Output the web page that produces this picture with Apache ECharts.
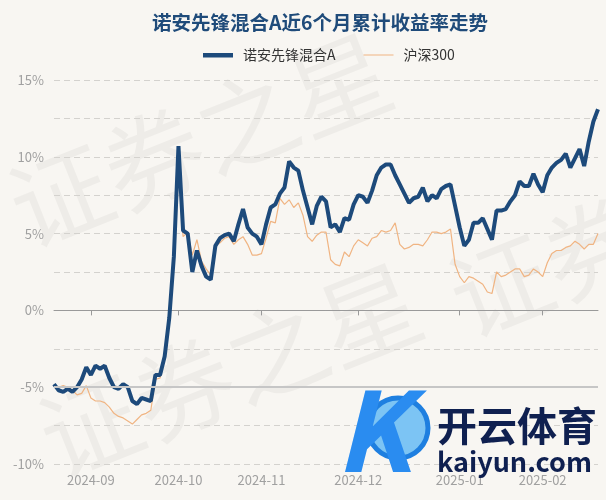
<!DOCTYPE html>
<html>
<head>
<meta charset="utf-8">
<script src="https://cdn.jsdelivr.net/npm/echarts@6/dist/echarts.min.js"></script>
<style>
html,body{margin:0;padding:0;background:#f8f6f2;}
#c{width:606px;height:500px;}
</style>
</head>
<body>
<div id="c"></div>
<script>
var titleText = '诺安先锋混合A近6个月累计收益率走势';
var seriesNames = ['诺安先锋混合A', '沪深300'];
var dates = [
'2024-08-21','2024-08-22','2024-08-23','2024-08-26','2024-08-27','2024-08-28','2024-08-29','2024-08-30',
'2024-09-02','2024-09-03','2024-09-04','2024-09-05','2024-09-06','2024-09-09','2024-09-10','2024-09-11','2024-09-12','2024-09-13','2024-09-18','2024-09-19','2024-09-20','2024-09-23','2024-09-24','2024-09-25','2024-09-26','2024-09-27','2024-09-30',
'2024-10-08','2024-10-09','2024-10-10','2024-10-11','2024-10-14','2024-10-15','2024-10-16','2024-10-17','2024-10-18','2024-10-21','2024-10-22','2024-10-23','2024-10-24','2024-10-25','2024-10-28','2024-10-29','2024-10-30','2024-10-31',
'2024-11-01','2024-11-04','2024-11-05','2024-11-06','2024-11-07','2024-11-08','2024-11-11','2024-11-12','2024-11-13','2024-11-14','2024-11-15','2024-11-18','2024-11-19','2024-11-20','2024-11-21','2024-11-22','2024-11-25','2024-11-26','2024-11-27','2024-11-28','2024-11-29',
'2024-12-02','2024-12-03','2024-12-04','2024-12-05','2024-12-06','2024-12-09','2024-12-10','2024-12-11','2024-12-12','2024-12-13','2024-12-16','2024-12-17','2024-12-18','2024-12-19','2024-12-20','2024-12-23','2024-12-24','2024-12-25','2024-12-26','2024-12-27','2024-12-30','2024-12-31',
'2025-01-02','2025-01-03','2025-01-06','2025-01-07','2025-01-08','2025-01-09','2025-01-10','2025-01-13','2025-01-14','2025-01-15','2025-01-16','2025-01-17','2025-01-20','2025-01-21','2025-01-22','2025-01-23','2025-01-24','2025-01-27',
'2025-02-05','2025-02-06','2025-02-07','2025-02-10','2025-02-11','2025-02-12','2025-02-13','2025-02-14','2025-02-17','2025-02-18','2025-02-19','2025-02-20','2025-02-21'
];
var fundValues = [
-4.8,-5.2,-5.3,-5.1,-5.3,-5.0,-4.5,-3.7,
-4.2,-3.6,-3.8,-3.6,-4.4,-5.0,-5.1,-4.8,-5.0,-5.9,-6.1,-5.7,-5.8,-5.9,-4.2,-4.2,-3.0,-0.5,3.5,
10.7,5.2,5.0,2.5,3.9,2.9,2.2,2.0,4.2,4.7,4.9,5.0,4.5,5.6,6.6,5.4,5.0,4.8,
4.3,5.6,6.7,6.9,7.6,8.0,9.7,9.3,9.1,7.8,6.7,5.6,6.8,7.4,7.1,5.4,5.6,5.1,6.0,5.9,6.9,
7.5,7.4,7.0,7.8,8.8,9.3,9.5,9.5,8.8,8.2,7.6,7.0,7.3,7.4,8.0,7.1,7.5,7.3,7.9,8.1,8.2,6.8,
5.4,4.2,4.6,5.7,5.7,6.0,5.3,4.6,6.5,6.5,6.6,7.1,7.5,8.4,8.1,8.1,8.9,8.2,
7.7,8.8,9.3,9.6,9.8,10.2,9.3,9.9,10.5,9.4,11.0,12.3,13.1
];
var hs300Values = [
-4.9,-5.0,-4.9,-5.0,-5.2,-5.5,-5.4,-4.9,
-5.7,-5.9,-5.9,-6.0,-6.3,-6.7,-6.9,-7.0,-7.2,-7.4,-7.1,-6.8,-6.7,-6.5,-4.5,-4.4,-3.2,-0.8,3.0,
9.1,4.8,5.1,3.6,4.6,3.2,2.7,2.3,4.2,4.4,4.7,4.8,4.3,4.6,4.8,4.3,3.6,3.6,
3.7,4.7,5.8,5.7,7.3,6.9,7.2,6.7,7.0,6.2,4.8,4.5,4.9,5.1,5.1,3.3,3.0,2.9,3.8,3.5,4.2,
4.6,4.4,4.2,4.7,4.8,5.2,5.1,5.2,5.7,4.3,4.0,4.1,4.3,4.3,4.2,4.6,5.1,5.1,5.0,5.1,5.3,3.0,
2.2,1.8,2.2,2.1,1.9,1.7,1.2,1.1,2.5,2.2,2.3,2.5,2.7,2.7,2.2,2.3,2.7,2.5,
2.2,3.1,3.7,3.9,3.9,4.1,4.2,4.5,4.3,4.0,4.3,4.3,5.0
];
var yTickLabels = ['-10%','-5%','0%','5%','10%','15%'];
var baseLineValue = -5;
var watermarkText = '证券之星';
var logoTexts = ['开云体育', 'kaiyun.com'];

function isMonthStart(i) {
  if (i === 0) return false;
  return dates[i].slice(0, 7) !== dates[i - 1].slice(0, 7);
}

var FONT = '"Noto Sans CJK SC","Noto Sans",sans-serif';
var chart = echarts.init(document.getElementById('c'));
var wmStyle = {text: watermarkText, fontSize: 100, fontFamily: FONT, fill: 'rgba(0,0,0,0.04)', textAlign: 'center', textVerticalAlign: 'middle'};
chart.setOption({
  backgroundColor: '#f8f6f2',
  textStyle: {fontFamily: FONT},
  title: {
    text: titleText,
    left: 315, top: 8, textAlign: 'center',
    textStyle: {color: '#1f4b7a', fontSize: 19.5, fontWeight: 'bold', fontFamily: FONT}
  },
  legend: {
    left: 198, top: 43,
    itemWidth: 30, itemHeight: 14, itemGap: 28,
    textStyle: {color: '#333', fontSize: 14, fontFamily: FONT, padding: [0, 0, 0, 5]},
    data: [
      {name: seriesNames[0], icon: 'path://M0,0L0,0ZM0,5H30V9.5H0ZM0,14L0,14Z'},
      {name: seriesNames[1], icon: 'path://M0,0L0,0ZM0,6.4H30V7.6H0ZM0,14L0,14Z'}
    ]
  },
  graphic: [
    {type: 'text', x: 200, y: 140, rotation: 0.38, silent: true, z: -1, style: wmStyle},
    {type: 'text', x: 230, y: 370, rotation: 0.38, silent: true, z: -1, style: wmStyle},
    {type: 'text', x: 640, y: 230, rotation: 0.38, silent: true, z: -1, style: wmStyle},
    {type: 'circle', shape: {cx: 398, cy: 428, r: 30}, silent: true, z: 50,
      style: {fill: '#7cc4f4', stroke: '#1e7fe0', lineWidth: 5}},
    {type: 'text', x: 335, y: 375, silent: true, z: 50,
      style: {text: 'K', fontSize: 110, fontStyle: 'italic', fontWeight: 'bold', fontFamily: FONT, fill: '#2a8cf0', textAlign: 'left', textVerticalAlign: 'top'}},
    {type: 'text', x: 437, y: 406, silent: true, z: 50,
      style: {text: logoTexts[0], fontSize: 40, fontWeight: 'bold', fontFamily: FONT, fill: '#0f2050', textAlign: 'left', textVerticalAlign: 'top'}},
    {type: 'text', x: 437, y: 448, silent: true, z: 50,
      style: {text: logoTexts[1], fontSize: 27, fontWeight: 'bold', fontFamily: FONT, fill: '#0f2050', textAlign: 'left', textVerticalAlign: 'top'}}
  ],
  grid: {left: 54, right: 8, top: 80, bottom: 36, containLabel: false},
  xAxis: {
    type: 'category',
    data: dates,
    boundaryGap: false,
    axisLine: {lineStyle: {color: '#9a9a9a', width: 1}},
    axisTick: {show: true, interval: function (i) { return isMonthStart(i); }, length: 5, lineStyle: {color: '#9a9a9a'}},
    axisLabel: {
      interval: function (i) { return isMonthStart(i); },
      formatter: function (v) { return v.slice(0, 7); },
      color: '#a0a0a0', fontSize: 13, margin: 10, fontFamily: FONT
    },
    splitLine: {show: false}
  },
  yAxis: {
    type: 'value',
    min: -10, max: 15, interval: 2.5,
    axisLine: {show: false},
    axisTick: {show: false},
    axisLabel: {
      color: '#a0a0a0', fontSize: 13, margin: 10, fontFamily: FONT,
      formatter: function (v) {
        var idx = yTickLabels.indexOf(v + '%');
        return idx >= 0 ? yTickLabels[idx] : '';
      }
    },
    splitLine: {lineStyle: {color: '#d4d2ce', type: [6, 4], width: 1}}
  },
  series: [
    {
      name: seriesNames[0], type: 'line', data: fundValues,
      symbol: 'none', smooth: false, z: 4,
      lineStyle: {color: '#1d4a7b', width: 4},
      itemStyle: {color: '#1d4a7b'},
      markLine: {
        silent: true, symbol: 'none', label: {show: false},
        lineStyle: {color: '#c6c6c6', type: 'solid', width: 2},
        data: [{yAxis: baseLineValue}]
      }
    },
    {
      name: seriesNames[1], type: 'line', data: hs300Values,
      symbol: 'none', smooth: false, z: 3,
      lineStyle: {color: '#f0b482', width: 1.2},
      itemStyle: {color: '#f0b482'}
    }
  ]
});
</script>
</body>
</html>
